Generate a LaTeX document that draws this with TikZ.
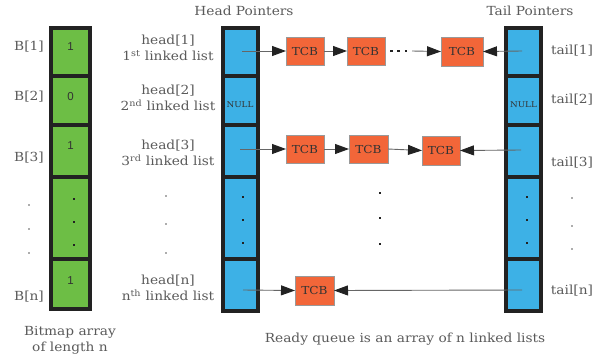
\documentclass[tikz,border=0pt]{standalone}
\usepackage{fontspec}
\setmainfont[FakeStretch=1.1]{DejaVu Serif}
\newfontfamily\numfont{Liberation Sans}
\usetikzlibrary{arrows.meta}
\definecolor{bitgreen}{HTML}{6DBE45}
\definecolor{ptrblue}{HTML}{3DB1E6}
\definecolor{tcborange}{HTML}{F26639}
\definecolor{txtgray}{HTML}{5A5A5A}
\definecolor{tcbtxt}{HTML}{333333}
\definecolor{frame}{HTML}{222222}
\definecolor{linegray}{HTML}{666666}
\tikzset{
  cell/.style={draw=frame, line width=4pt, inner sep=0pt, outer sep=0pt},
  gcell/.style={cell, fill=bitgreen, minimum width=39pt},
  bcell/.style={cell, fill=ptrblue, minimum width=35pt},
  tcb/.style={draw=gray!80, line width=1pt, fill=tcborange, inner sep=0pt, outer sep=0pt,
    minimum height=28pt, text=tcbtxt, font=\fontsize{11}{11}\selectfont},
  lbl/.style={text=txtgray, font=\fontsize{12.5}{16}\selectfont, align=center, inner sep=0pt},
  num/.style={text=tcbtxt, font=\numfont\fontsize{11.5}{11.5}\selectfont, inner sep=0pt},
  nul/.style={text=tcbtxt, font=\fontsize{8}{8}\selectfont, inner sep=0pt},
  ptr/.style={draw=linegray, line width=0.9pt, -{Triangle[length=14pt,width=10pt,color=frame,fill=frame]}},
  sq/.style={fill=frame, inner sep=0pt, minimum size=2.8pt},
  tiny/.style={fill=txtgray, circle, inner sep=0pt, minimum size=1.6pt},
}
\begin{document}
\begin{tikzpicture}[x=1pt,y=-1pt]
\useasboundingbox (0,0) rectangle (602,362);
% bitmap column
\node[gcell, minimum height=48pt] (g1) at (70.5,52) {};
\node[gcell, minimum height=49pt] (g2) at (70.5,100.5) {};
\node[gcell, minimum height=52pt] (g3) at (70.5,151) {};
\node[gcell, minimum height=82pt] (g4) at (70.5,218) {};
\node[gcell, minimum height=50pt] (g5) at (70.5,284) {};
% head column
\node[bcell, minimum height=48pt] (h1) at (240,52) {};
\node[bcell, minimum height=49pt] (h2) at (240,100.5) {};
\node[bcell, minimum height=52pt] (h3) at (240,151) {};
\node[bcell, minimum height=82pt] (h4) at (240,218) {};
\node[bcell, minimum height=52pt] (h5) at (240,285) {};
% tail column
\node[bcell, minimum height=48pt] (r1) at (523.5,52) {};
\node[bcell, minimum height=49pt] (r2) at (523.5,100.5) {};
\node[bcell, minimum height=52pt] (r3) at (523.5,151) {};
\node[bcell, minimum height=82pt] (r4) at (523.5,218) {};
\node[bcell, minimum height=52pt] (r5) at (523.5,285) {};
% cell contents
\node[num] (n1) at (70.5,47) {1};
\node[num] (n2) at (70.5,97) {0};
\node[num] (n3) at (70.5,146) {1};
\node[num] (n5) at (70.5,281) {1};
\node[nul] (hnull) at (240,105) {NULL};
\node[nul] (tnull) at (523.5,105) {NULL};
\foreach \y [count=\i] in {199,222,245} \node[sq] (gd\i) at (74,\y) {};
\foreach \y [count=\i] in {197,220,243} \node[sq] (hd\i) at (243,\y) {};
\foreach \y [count=\i] in {197,220,243} \node[sq] (rd\i) at (527,\y) {};
\foreach \y [count=\i] in {193,218,244} \node[sq] (md\i) at (380,\y) {};
% small dots
\foreach \y [count=\i] in {205,229,253} \node[tiny] (bd\i) at (29,\y) {};
\foreach \y [count=\i] in {196,224,253} \node[tiny] (ld\i) at (166,\y) {};
\foreach \y [count=\i] in {198,226,249} \node[tiny] (td\i) at (572,\y) {};
% TCBs
\node[tcb, minimum width=38pt] (t11) at (305,51) {TCB};
\node[tcb, minimum width=38pt] (t12) at (366,51) {TCB};
\node[tcb, minimum width=42pt, minimum height=29pt] (t13) at (462,51.5) {TCB};
\node[tcb, minimum width=38pt] (t31) at (305,149) {TCB};
\node[tcb, minimum width=39pt] (t32) at (368.5,149) {TCB};
\node[tcb, minimum width=38pt, minimum height=29pt] (t33) at (441,150.5) {TCB};
\node[tcb, minimum width=39pt, minimum height=29pt] (tn) at (314.5,290.5) {TCB};
% pointer start points
\coordinate (hs1) at (242,51);
\coordinate (hs3) at (240,149);
\coordinate (hs5) at (243,290);
\coordinate (ts1) at (522,51);
\coordinate (ts3) at (521,150);
\coordinate (ts5) at (522,290);
\coordinate (dotbeg) at (390,51);
\coordinate (dotend) at (409,51);
\coordinate (arrbeg) at (412,51);
% arrows
\draw[ptr] (hs1) -- (t11.west);
\draw[ptr] (t11.east) -- (t12.west);
\draw[line width=2.6pt, draw=frame, dash pattern=on 2.6pt off 4.8pt] (dotbeg) -- (dotend);
\draw[ptr] (arrbeg) -- (t13.west);
\draw[ptr] (ts1) -- (t13.east);
\draw[ptr] (hs3) -- (t31.west);
\draw[ptr] (t31.east) -- (t32.west);
\draw[ptr] (t32.east) -- (t33.west);
\draw[ptr] (ts3) -- (t33.east);
\draw[ptr] (hs5) -- (tn.west);
\draw[ptr] (ts5) -- (tn.east);
% labels
\node[lbl] (hp) at (244,11) {Head Pointers};
\node[lbl] (tp) at (530,11) {Tail Pointers};
\node[lbl] (b1) at (29,47) {B[1]};
\node[lbl] (b2) at (29,97) {B[2]};
\node[lbl] (b3) at (29,158) {B[3]};
\node[lbl] (bn) at (29,297) {B[n]};
\node[lbl] (l1) at (168,48) {head[1]\\1\textsuperscript{st} linked list};
\node[lbl] (l2) at (168,98) {head[2]\\2\textsuperscript{nd} linked list};
\node[lbl] (l3) at (168,153) {head[3]\\3\textsuperscript{rd} linked list};
\node[lbl] (ln) at (168,288) {head[n]\\n\textsuperscript{th} linked list};
\node[lbl] (tl1) at (572,51) {tail[1]};
\node[lbl] (tl2) at (572,100) {tail[2]};
\node[lbl] (tl3) at (572,163) {tail[3]};
\node[lbl] (tln) at (572,291) {tail[n]};
\node[lbl] (bm) at (70,340) {Bitmap array\\of length n};
\node[lbl] (rq) at (405,339) {Ready queue is an array of n linked lists};
\end{tikzpicture}
\end{document}
